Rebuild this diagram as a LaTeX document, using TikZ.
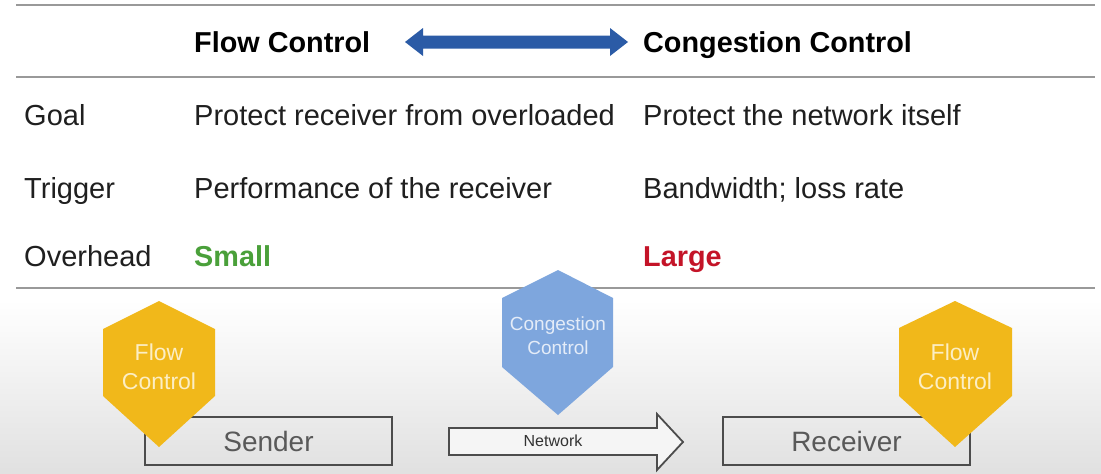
\documentclass[tikz,border=0pt]{standalone}
\usepackage{fontspec}
\setmainfont{Liberation Sans}
\definecolor{arrblue}{RGB}{43,91,166}
\definecolor{hyel}{RGB}{241,184,26}
\definecolor{hblu}{RGB}{126,166,221}
\definecolor{hyeltxt}{RGB}{252,238,196}
\definecolor{hblutxt}{RGB}{228,236,248}
\definecolor{okgreen}{RGB}{74,160,58}
\definecolor{badred}{RGB}{196,20,40}
\begin{document}
\begin{tikzpicture}[x=1pt,y=-1pt,
  rule/.style={draw=black!40,line width=1.6pt},
  txt/.style={anchor=base west,inner sep=0pt,text=black!88,font=\fontsize{29}{34}\selectfont},
  hdr/.style={txt,font=\fontsize{28.8}{34}\selectfont\bfseries,text=black},
  hexyel/.style={fill=hyel},
  hexblu/.style={fill=hblu},
  hextxt/.style={align=center,inner sep=0pt,text=hyeltxt,font=\fontsize{23}{29}\selectfont},
  boxst/.style={draw=black!70,line width=1.8pt,minimum width=247pt,minimum height=48pt,inner sep=0pt,text=black!65,font=\fontsize{28}{34}\selectfont}
]
\useasboundingbox (0,0) rectangle (1101,474);
\fill[white] (0,0) rectangle (1101,474);
\shade[top color=white,bottom color=black!12] (0,300) rectangle (1101,474);

% rules
\draw[rule] (16,5) -- (1095,5);
\draw[rule] (16,77) -- (1095,77);
\draw[rule] (16,288) -- (1095,288);

% header
\node[hdr] (fc) at (194,52) {Flow Control};
\node[hdr] (cc) at (643,52) {Congestion Control};
\fill[arrblue] (405,42) -- (423,28) -- (423,35.5) -- (610,35.5) -- (610,28) -- (628,42) -- (610,56) -- (610,48.5) -- (423,48.5) -- (423,56) -- cycle;

% rows
\node[txt] (g) at (24,125) {Goal};
\node[txt] (g1) at (194,125) {Protect receiver from overloaded};
\node[txt] (g2) at (643,125) {Protect the network itself};
\node[txt] (t) at (24,198) {Trigger};
\node[txt] (t1) at (194,198) {Performance of the receiver};
\node[txt] (t2) at (643,198) {Bandwidth; loss rate};
\node[txt] (o) at (24,266) {Overhead};
\node[hdr,text=okgreen] (o1) at (194,266) {Small};
\node[hdr,text=badred] (o2) at (643,266) {Large};

% boxes
\node[boxst] (snd) at (268.5,441) {Sender};
\node[boxst] (rcv) at (846.5,441) {Receiver};

% network arrow
\filldraw[draw=black!70,line width=1.8pt,fill=white!96!black] (449,428) -- (657,428) -- (657,414) -- (683,442) -- (657,470) -- (657,455) -- (449,455) -- cycle;
\node[font=\fontsize{16}{19}\selectfont,text=black!80,inner sep=0pt] (net) at (553,441) {Network};

% hexagons
\fill[hexyel] (159,301) -- (215,329) -- (215,396) -- (159,447) -- (103,396) -- (103,329) -- cycle;
\node[hextxt] (fl) at (159,367) {Flow\\Control};
\fill[hexblu] (558,270) -- (613,298) -- (613,367) -- (558,415) -- (502,367) -- (502,298) -- cycle;
\node[hextxt,font=\fontsize{19}{24}\selectfont,text=hblutxt] (cg) at (558,336) {Congestion\\Control};
\fill[hexyel] (955,301) -- (1012,328) -- (1012,396) -- (955,447) -- (899,396) -- (899,328) -- cycle;
\node[hextxt] (fr) at (955,367) {Flow\\Control};
\end{tikzpicture}
\end{document}
